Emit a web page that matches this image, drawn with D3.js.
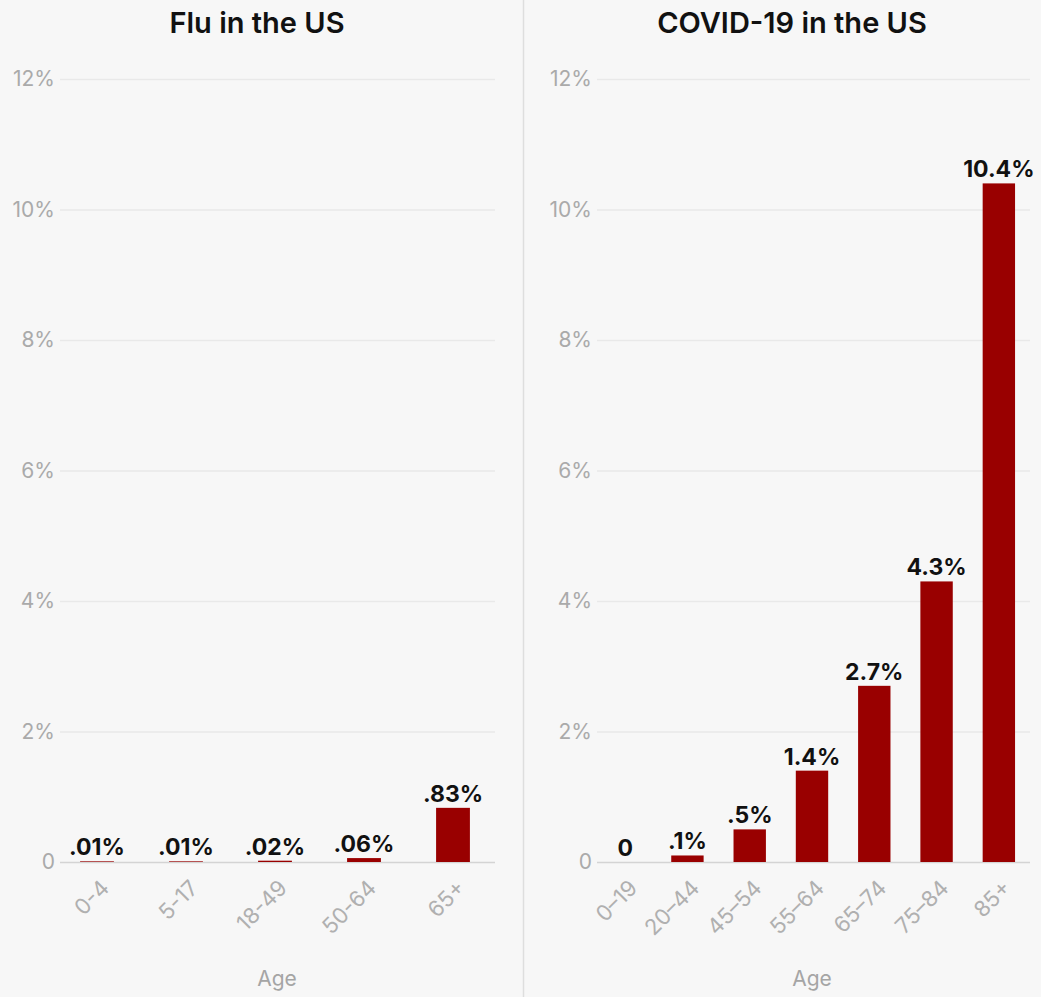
<!DOCTYPE html>
<html>
<head>
<meta charset="utf-8">
<script src="https://cdn.jsdelivr.net/npm/d3@7"></script>
<style>
  html, body { margin: 0; padding: 0; background: #f7f7f7; }
  svg { display: block; }
  text { font-family: Inter, "Open Sans", sans-serif; }
</style>
</head>
<body>
<svg id="chart" width="1041" height="997"></svg>
<script>
// ---- data ----
const fluAges = ["0-4", "5-17", "18-49", "50-64", "65+"];
const fluRates = [0.01, 0.01, 0.02, 0.06, 0.83];
const fluLabels = [".01%", ".01%", ".02%", ".06%", ".83%"];

const covidAges = ["0–19", "20–44", "45–54", "55–64", "65–74", "75–84", "85+"];
const covidRates = [0, 0.1, 0.5, 1.4, 2.7, 4.3, 10.4];
const covidLabels = ["0", ".1%", ".5%", "1.4%", "2.7%", "4.3%", "10.4%"];

const yTicks = [0, 2, 4, 6, 8, 10, 12];
const titles = ["Flu in the US", "COVID-19 in the US"];
const axisTitle = "Age";

// ---- layout ----
const svg = d3.select("#chart");
const W = 1041, H = 997;
svg.append("rect").attr("width", W).attr("height", H).attr("fill", "#f7f7f7");

const y = d3.scaleLinear().domain([0, 12]).range([862, 79]);
const barColor = "#990000";

// divider
svg.append("line").attr("x1", 523.5).attr("x2", 523.5).attr("y1", 0).attr("y2", H)
  .attr("stroke", "#dedede").attr("stroke-width", 1.5);

function panel(cfg) {
  const g = svg.append("g");
  const x = d3.scaleBand().domain(cfg.ages).range(cfg.bandRange).paddingInner(cfg.padding).paddingOuter(cfg.padding / 2);

  // title
  g.append("text").attr("x", cfg.titleX).attr("y", 33).attr("text-anchor", "middle")
    .attr("font-size", 29).attr("font-weight", 600).attr("fill", "#111").text(cfg.title);

  // grid
  const grid = g.append("g").attr("transform", `translate(${cfg.gridX0},0)`)
    .call(d3.axisLeft(y).tickValues(yTicks).tickSize(-(cfg.gridX1 - cfg.gridX0))
      .tickFormat(d => d === 0 ? "0" : d + "%"));
  grid.select(".domain").remove();
  grid.selectAll(".tick line").attr("stroke", d => d === 0 ? "#d4d4d4" : "#e9e9e9").attr("stroke-width", 1.5);
  grid.selectAll(".tick text").attr("x", -5).attr("font-size", 21).attr("fill", "#aaaaaa")
    .attr("font-family", "Inter, sans-serif");

  // bars
  const data = cfg.ages.map((a, i) => ({ a, v: cfg.rates[i], l: cfg.labels[i] }));
  g.selectAll("rect.bar").data(data).join("rect").attr("class", "bar")
    .attr("x", d => x(d.a)).attr("width", x.bandwidth())
    .attr("y", d => y(d.v)).attr("height", d => y(0) - y(d.v))
    .attr("fill", barColor);

  // value labels
  g.selectAll("text.val").data(data).join("text").attr("class", "val")
    .attr("x", d => x(d.a) + x.bandwidth() / 2).attr("y", d => y(d.v) - 6)
    .attr("text-anchor", "middle").attr("font-size", 23).attr("font-weight", 700).attr("fill", "#111")
    .text(d => d.l);

  // x axis labels
  const xa = g.append("g").attr("transform", `translate(0,${y(0)})`)
    .call(d3.axisBottom(x).tickSize(0));
  xa.select(".domain").remove();
  xa.selectAll(".tick text")
    .attr("font-size", 22).attr("fill", "#b0b0b0").attr("font-family", "Inter, sans-serif")
    .attr("text-anchor", "end").attr("dy", "0.35em")
    .attr("transform", "translate(8,22) rotate(-45)")
    .attr("x", 0).attr("y", 0);

  // axis title
  g.append("text").attr("x", cfg.ageX).attr("y", 986).attr("text-anchor", "middle")
    .attr("font-size", 21).attr("fill", "#a5a5a5").text(axisTitle);
}

panel({ ages: fluAges, rates: fluRates, labels: fluLabels, title: titles[0], titleX: 257,
  bandRange: [52.5, 497.5], padding: 0.62, gridX0: 60, gridX1: 495, ageX: 277 });
panel({ ages: covidAges, rates: covidRates, labels: covidLabels, title: titles[1], titleX: 792,
  bandRange: [594, 1030], padding: 0.48, gridX0: 597, gridX1: 1030, ageX: 812 });
</script>
</body>
</html>
